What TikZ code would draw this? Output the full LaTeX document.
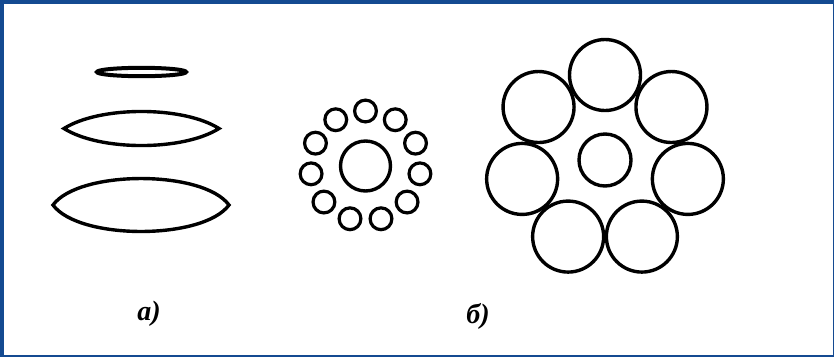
\documentclass[tikz,border=0pt]{standalone}
\usepackage{fontspec}
\setmainfont{Liberation Serif}
\usetikzlibrary{calc}
\definecolor{frameblue}{RGB}{20,74,145}
\begin{document}
\begin{tikzpicture}[x=1pt,y=-1pt,
  stroke/.style={draw=black,line width=3.4pt},
  thin stroke/.style={draw=black,line width=3.2pt},
  lbl/.style={font=\fontsize{28}{30}\selectfont\bfseries\itshape,inner sep=0pt}]
\useasboundingbox (0,0) rectangle (834,357);
\fill[frameblue] (0,0) rectangle (834,357);
\fill[white] (4,4) rectangle (833,355);
% lenses
\draw[stroke,line width=4pt] (141.5,72) ellipse [x radius=44.5, y radius=4.2];
\draw[stroke] (64,128.5) .. controls (100,105.8) and (183,105.8) .. (219,128.5)
  .. controls (183,151.2) and (100,151.2) .. cycle;
\draw[stroke] (53,205) .. controls (79,169.7) and (203,169.7) .. (229,205)
  .. controls (203,240.3) and (79,240.3) .. cycle;
% ring of 11 small circles
\coordinate (rc) at (365.5,166);
\draw[stroke] (rc) circle [radius=25];
\foreach \i in {0,...,10}{
  \draw[thin stroke] ($(rc)+({90-\i*360/11}:55 and -55)$) circle [radius=10.9];
}
% seven large circles
\coordinate (bc) at (605,160);
\draw[stroke] (bc) circle [radius=26];
\foreach \i in {0,...,6}{
  \draw[stroke] ($(bc)+({90-\i*360/7}:85 and -85)$) circle [radius=35.5];
}
\node[lbl] (la) at (149,314) {а)};
\node[lbl] (lb) at (478,316) {б)};
\end{tikzpicture}
\end{document}
